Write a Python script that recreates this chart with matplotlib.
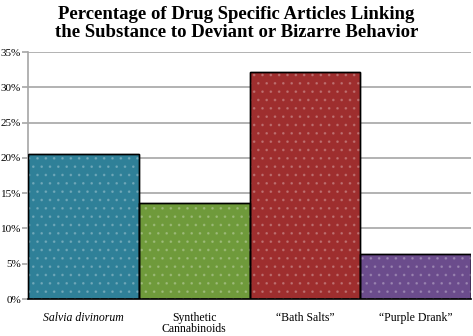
import matplotlib
matplotlib.use("Agg")
import matplotlib.pyplot as plt

categories = ["Salvia divinorum", "Synthetic\nCannabinoids", "\u201cBath Salts\u201d", "\u201cPurple Drank\u201d"]
values = [20.6, 13.6, 32.2, 6.4]
colors = ["#2f8098", "#6f9a3b", "#9e2e2e", "#6b4c8c"]
yticks = [0, 5, 10, 15, 20, 25, 30, 35]

plt.rcParams['font.family'] = ['Liberation Serif', 'DejaVu Serif']
plt.rcParams['hatch.linewidth'] = 0.8

fig = plt.figure(figsize=(4.73, 3.36), dpi=100)
ax = fig.add_axes([0.059, 0.110, 0.937, 0.735])

x = list(range(len(categories)))
ax.bar(x, values, width=1.0, color=colors, edgecolor="black", linewidth=1.0, zorder=2)
ax.bar(x, values, width=1.0, fill=False, hatch="..", edgecolor=(1, 1, 1, 0.2), linewidth=0, zorder=3)
ax.bar(x, values, width=1.0, fill=False, edgecolor="black", linewidth=1.0, zorder=4)

ax.set_xlim(-0.5, 3.5)
ax.set_ylim(0, 35)
ax.set_yticks(yticks)
ax.set_yticklabels([f"{v}%" for v in yticks], fontsize=8)
ax.yaxis.grid(True, color="#a6a6a6", linewidth=1.2, zorder=0)
ax.tick_params(axis="y", length=4, color="#a6a6a6", width=1.2, pad=1)
ax.tick_params(axis="x", length=0, pad=9)
ax.set_xticks(x)
labels = ax.set_xticklabels(categories, fontsize=8.5, va="top", linespacing=0.95)
labels[0].set_style("italic")

for s in ["top", "right"]:
    ax.spines[s].set_visible(False)
ax.spines["left"].set_color("#a6a6a6")
ax.spines["left"].set_linewidth(1.2)
ax.spines["bottom"].set_color("black")
ax.spines["bottom"].set_linewidth(1.2)

fig.text(0.5, 0.982, "Percentage of Drug Specific Articles Linking\nthe Substance to Deviant or Bizarre Behavior",
         ha="center", va="top", fontsize=13.5, fontweight="bold", linespacing=1.05)

fig.savefig("out.png", dpi=100)
